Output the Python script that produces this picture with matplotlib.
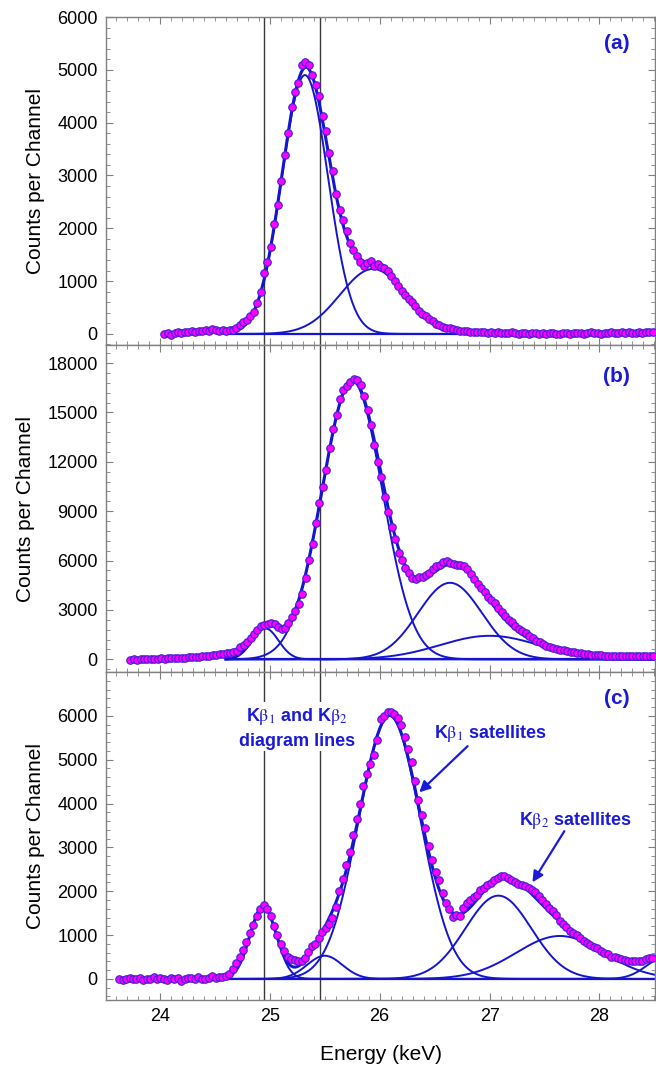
import numpy as np
import matplotlib
matplotlib.use('Agg')
import matplotlib.pyplot as plt
from matplotlib.ticker import MultipleLocator, AutoMinorLocator

plt.rcParams['font.family'] = ['Liberation Sans', 'DejaVu Sans']
plt.rcParams['mathtext.fontset'] = 'stix'

# ---------------- data (channel grid: start + step * index) ----------------
step = 0.0313

start_a = 24.04
counts_a = [0, 10, -20, 20, 30, 10, 40, 30, 50, 40, 60, 50, 70, 60, 90, 80,
            60, 70, 60, 80, 70, 110,
            170, 220, 270, 340, 420, 580, 790, 1150, 1370, 1650,
            2080, 2450, 2900, 3380, 3800, 4300, 4580, 4750, 5100, 5150,
            5090, 4900, 4720, 4500, 4130, 3850, 3420, 3080, 2650, 2350,
            2150, 1940, 1720, 1580, 1470, 1370, 1290, 1340, 1380, 1280,
            1330, 1270, 1240, 1185, 1090, 1000, 910, 820, 745, 670,
            595, 530, 440, 380, 330, 285, 235, 195, 165, 140,
            120, 105, 90, 75, 60, 55, 50, 45,
            40, 35, 30, 45, 25, 30, 20, 35, 15, 25, 10, 30, 20, 5, 25, 15,
            -10, 10, 20, 0, 15, -5, 10, 20, 5, 0, 15, 10, -5, 20, 10, 25,
            0, 15, 30, 10, 20, -10, 15, 25, 30, 20, 10, 35, 25, 30, 20, 15,
            35, 25, 40, 30, 45]

start_b = 23.73
counts_b = [-20, 0, -30, 10, 20, 0, 30, 20, 40, 60, 50, 70, 60, 90, 80, 110,
            100, 130, 150, 140, 170, 190, 200, 230, 250, 270, 300, 320,
            364, 400, 440, 530, 720, 880, 1050, 1300, 1550, 1800,
            2000, 2070, 2150, 2180, 2130, 1950, 1860, 1880, 2200, 2600,
            2950, 3350, 4000, 4950, 6050, 7000, 8300, 9500, 10500, 11500,
            12850, 14000, 14850, 15800, 16350, 16600, 16850, 17050, 17000, 16650,
            16000, 15150, 14250, 13050, 12000, 11050, 9850, 8950, 8050, 7300,
            6450, 6030, 5560, 5230, 4920, 4860, 4980, 5010, 5110, 5250,
            5470, 5650, 5750, 5900, 5960, 5870, 5800, 5760, 5720, 5700,
            5500, 5200, 4900, 4550, 4320, 4080, 3800, 3600, 3400, 3100,
            2870, 2620, 2420, 2250, 2020, 1830, 1700, 1590, 1420, 1300,
            1140, 1030, 920, 840, 760, 700, 640, 580, 540, 500,
            460, 430, 400, 360, 330, 320, 290, 280, 260, 240,
            230, 220, 210, 220, 200, 210, 190, 200, 210, 190,
            200, 210, 190, 200, 210]

start_c = 23.63
counts_c = [0, -20, 10, 30, -10, 0, 20, -30, 10, 0, 40, -10, 20, 10, -20, 30,
            0, 20, -40, 10, 30, 20, 0, 40, 10, -10, 30, 60, 20, 50, 40,
            60, 120, 220, 360, 490, 670, 850, 1040, 1230, 1440,
            1600, 1690, 1590, 1440, 1210, 1000, 800, 630, 490, 450,
            440, 420, 400, 480, 620, 750, 800, 930, 1060, 1170,
            1260, 1400, 1650, 2000, 2270, 2600, 2900, 3280, 3640, 4000,
            4400, 4680, 4900, 5110, 5460, 5930, 6000, 6080, 6090, 6040,
            5960, 5780, 5510, 5250, 4950, 4520, 4080, 3730, 3450, 3030,
            2720, 2450, 2250, 1960, 1740, 1600, 1420, 1450, 1440, 1620,
            1730, 1810, 1870, 1920, 2030, 2080, 2150, 2190, 2250, 2300,
            2350, 2340, 2300, 2250, 2220, 2160, 2150, 2110, 2080, 2030,
            1980, 1900, 1810, 1710, 1610, 1550, 1450, 1330, 1260, 1180,
            1100, 1050, 1000, 930, 870, 830, 770, 740, 700, 640,
            590, 570, 510, 490, 475, 455, 440, 410, 400, 420,
            400, 400, 450, 470, 485]

# fitted Gaussian components (centre keV, height, sigma keV)
fit_a_centers = [25.32, 25.94]
fit_a_heights = [4900, 1230]
fit_a_widths = [0.21, 0.30]

fit_b_centers = [24.96, 25.75, 26.64, 27.00]
fit_b_heights = [1880, 16900, 4650, 1430]
fit_b_widths = [0.12, 0.275, 0.29, 0.45]

fit_c_centers = [24.94, 25.50, 26.09, 27.08, 27.64, 28.60]
fit_c_heights = [1650, 530, 6000, 1900, 980, 500]
fit_c_widths = [0.12, 0.16, 0.28, 0.30, 0.40, 0.17]

fit_start = 24.6
diagram_lines = [24.945, 25.455]

y_ticks_a = [0, 1000, 2000, 3000, 4000, 5000, 6000]
y_ticks_b = [0, 3000, 6000, 9000, 12000, 15000, 18000]
y_ticks_c = [0, 1000, 2000, 3000, 4000, 5000, 6000]
x_ticks = [24, 25, 26, 27, 28]

# ---------------- style ----------------
BLUE = '#1515d0'
TXT_BLUE = '#1a1ad8'
FACE = '#ff00ff'
EDGE = '#3b22d6'
SPINE = '#808080'
XMIN, XMAX = 23.51, 28.505

fig = plt.figure(figsize=(6.56, 10.68), dpi=100)
left = 106 / 656
width = (655 - 106) / 656
H = 1068.0
boxes = [(17, 345), (345, 672), (672, 1000)]
ylims = [(-210, 6000), (-770, 19100), (-480, 7000)]
yticks = [y_ticks_a, y_ticks_b, y_ticks_c]
starts = [start_a, start_b, start_c]
counts = [counts_a, counts_b, counts_c]
fits = [(fit_a_centers, fit_a_heights, fit_a_widths),
        (fit_b_centers, fit_b_heights, fit_b_widths),
        (fit_c_centers, fit_c_heights, fit_c_widths)]
labels = ['(a)', '(b)', '(c)']

xf = np.linspace(fit_start, XMAX, 600)

axes = []
for k in range(3):
    top, bot = boxes[k]
    ax = fig.add_axes([left, 1 - bot / H, width, (bot - top) / H])
    axes.append(ax)
    ax.set_xlim(XMIN, XMAX)
    ax.set_ylim(*ylims[k])

    for xv in diagram_lines:
        ax.axvline(xv, color='#3a3a3a', lw=1.0, zorder=1)

    cen, hts, wds = fits[k]
    total = np.zeros_like(xf)
    ax.plot(xf, np.zeros_like(xf), color=BLUE, lw=1.6, zorder=2)
    for c0, h0, w0 in zip(cen, hts, wds):
        comp = h0 * np.exp(-0.5 * ((xf - c0) / w0) ** 2)
        total += comp
        ax.plot(xf, comp, color=BLUE, lw=1.4, zorder=2)
    ax.plot(xf, total, color=BLUE, lw=2.2, zorder=3)

    yv = np.array(counts[k], dtype=float)
    xv = starts[k] + step * np.arange(len(yv))
    ax.plot(xv, yv, 'o', ms=5.4, mfc=FACE, mec=EDGE, mew=0.8, zorder=4)

    ax.set_yticks(yticks[k])
    ax.set_xticks(x_ticks)
    ax.xaxis.set_minor_locator(MultipleLocator(0.1))
    ax.yaxis.set_minor_locator(AutoMinorLocator(5))
    ax.tick_params(which='both', direction='in', top=True, right=True,
                   color=SPINE, labelsize=13, pad=6)
    ax.tick_params(which='major', length=5, width=0.8)
    ax.tick_params(which='minor', length=3, width=0.6)
    for s in ax.spines.values():
        s.set_color(SPINE)
        s.set_linewidth(1.0)
    if k < 2:
        ax.tick_params(axis='x', labelbottom=False)
    ax.set_ylabel('Counts per Channel', fontsize=15, labelpad=9)
    ax.text(0.93, 0.92 if k != 1 else 0.905, labels[k], transform=ax.transAxes,
            ha='center', va='center', fontsize=15, fontweight='bold', color=TXT_BLUE)

axc = axes[2]
axc.set_xlabel('Energy (keV)', fontsize=15, labelpad=14)

axc.text(25.25, 5730, 'K$\\mathrm{\\beta}_1$ and K$\\mathrm{\\beta}_2$\ndiagram lines',
         ha='center', va='center', fontsize=13, fontweight='bold', color=TXT_BLUE,
         linespacing=1.45, zorder=5,
         bbox=dict(facecolor='white', edgecolor='none', pad=1.0))
axc.text(27.01, 5606, 'K$\\mathrm{\\beta}_1$ satellites', ha='center', va='center',
         fontsize=13, fontweight='bold', color=TXT_BLUE, zorder=5)
axc.text(27.78, 3616, 'K$\\mathrm{\\beta}_2$ satellites', ha='center', va='center',
         fontsize=13, fontweight='bold', color=TXT_BLUE, zorder=5)
arrow = dict(arrowstyle='-|>', color=TXT_BLUE, lw=1.6, mutation_scale=16,
             shrinkA=0, shrinkB=0)
axc.annotate('', xy=(26.36, 4256), xytext=(26.80, 5309), arrowprops=arrow, zorder=6)
axc.annotate('', xy=(27.39, 2204), xytext=(27.68, 3370), arrowprops=arrow, zorder=6)

fig.savefig('out.png', dpi=100)
